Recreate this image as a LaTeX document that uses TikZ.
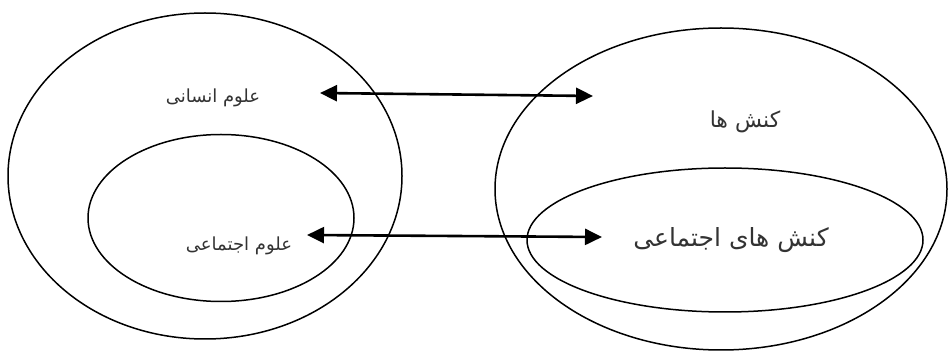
\documentclass[tikz,border=0pt]{standalone}
\usepackage{fontspec}
\usetikzlibrary{arrows.meta,shapes.geometric}
\newfontfamily\arabicfont[Script=Arabic]{DejaVu Sans}
\TeXXeTstate=1
\tikzset{
  oval/.style={ellipse, draw=black, line width=1.5pt, inner sep=0pt},
  smalllabel/.style={font=\arabicfont\fontsize{18}{20}\selectfont, text=black!80, inner sep=0pt},
  biglabel/.style={font=\arabicfont\fontsize{22}{26}\selectfont, text=black!80, inner sep=0pt},
  biarrow/.style={line width=2.6pt, {Triangle[length=17pt,width=16pt]}-{Triangle[length=17pt,width=16pt]}}
}
\begin{document}
\begin{tikzpicture}[x=1pt,y=-1pt]
\useasboundingbox[fill=white] (0,0) rectangle (950,352);
% left ellipses
\node[oval, minimum width=394pt, minimum height=326pt] (leftouter) at (205,176) {};
\node[oval, minimum width=266pt, minimum height=167pt] (leftinner) at (221,218) {};
% right ellipses
\node[oval, minimum width=452pt, minimum height=322pt] (rightouter) at (721,189) {};
\node[oval, minimum width=396pt, minimum height=144pt] (rightinner) at (725,240) {};
% labels
\node[smalllabel] (ensani) at (213,98) {\beginR علوم انسانی\endR};
\node[smalllabel] (ejtemaei) at (239,246) {\beginR علوم اجتماعی\endR};
\node[biglabel] (konesh) at (745,122) {\beginR کنش ها\endR};
\node[biglabel, font=\arabicfont\fontsize{25}{28}\selectfont] (koneshej) at (731,240) {\beginR کنش های اجتماعی\endR};
% arrow ends
\coordinate (a1l) at (320,93);
\coordinate (a1r) at (593,96);
\coordinate (a2l) at (307,235);
\coordinate (a2r) at (602,237);
\draw[biarrow] (a1l) -- (a1r);
\draw[biarrow] (a2l) -- (a2r);
\end{tikzpicture}
\end{document}
